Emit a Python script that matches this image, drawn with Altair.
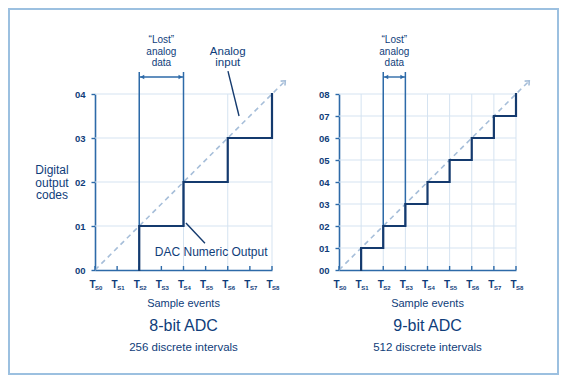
import altair as alt
import pandas as pd

# ---------------- data ----------------
samples = [0, 1, 2, 3, 4, 5, 6, 7, 8]
sample_subs = ["S0", "S1", "S2", "S3", "S4", "S5", "S6", "S7", "S8"]
codes_8bit = [0, 0, 1, 1, 2, 2, 3, 3, 4]
codes_9bit = [0, 1, 2, 3, 4, 5, 6, 7, 8]
y_ticks_8bit = [0, 1, 2, 3, 4]
y_ticks_9bit = [0, 1, 2, 3, 4, 5, 6, 7, 8]
grid_x_8bit = [2, 4, 6, 8]
grid_x_9bit = [1, 2, 3, 4, 5, 6, 7, 8]
lost_8bit = [2, 4]
lost_9bit = [2, 3]
titles = ["8-bit ADC", "9-bit ADC"]
subtitles = ["256 discrete intervals", "512 discrete intervals"]
lost_lines = ["\u201cLost\u201d", "analog", "data"]
ylabel_lines = ["Digital", "output", "codes"]
analog_lines = ["Analog", "input"]
dac_label = "DAC Numeric Output"
xtitle = "Sample events"

# ---------------- style ----------------
W, H = 177, 176
FONT = "Liberation Sans"
TXT = "#0f3d7a"
AXIS = "#2d6aa8"
STEP = "#143a6e"
GRID = "#d5e3f1"
DASH = "#a6bed9"
BORDER = "#9cc0e0"


def step_vertices(codes):
    pts = []
    for i in range(1, len(codes)):
        if codes[i] != codes[i - 1]:
            pts.append((samples[i], codes[i - 1]))
            pts.append((samples[i], codes[i]))
    return pd.DataFrame({"x": [p[0] for p in pts], "y": [p[1] for p in pts],
                         "o": list(range(len(pts)))})


def panel(codes, ymax, yticks, grid_x, lost, title, subtitle, left=False):
    ppu_y = H / ymax
    ppu_x = W / 8
    xs = alt.Scale(domain=[0, 8], nice=False, zero=False)
    ys = alt.Scale(domain=[0, ymax], nice=False, zero=False)
    xaxis = alt.Axis(values=samples, labels=False, ticks=False, domainColor=AXIS,
                     domainWidth=1.6, grid=False, title=None)
    yaxis = alt.Axis(values=yticks, format="02d", domainColor=AXIS, domainWidth=1.6,
                     tickColor=AXIS, tickWidth=1.4, tickSize=4, labelColor=TXT,
                     labelFont=FONT, labelFontSize=9.5, labelFontWeight="bold",
                     labelPadding=6, grid=False, title=None)

    def X(f="x"):
        return alt.X(f"{f}:Q", scale=xs, axis=xaxis)

    def Y(f="y"):
        return alt.Y(f"{f}:Q", scale=ys, axis=yaxis)

    # pixel (panel coords) -> data
    def py(p):
        return (H - p) / ppu_y

    def px(p):
        return p / ppu_x

    layers = []

    if left:
        border = alt.Chart(pd.DataFrame({"a": [0]})).mark_rect(
            fillOpacity=0, stroke=BORDER, strokeWidth=2
        ).encode(x=alt.value(-86), x2=alt.value(463), y=alt.value(-85), y2=alt.value(280))
        layers.append(border)

    gx = alt.Chart(pd.DataFrame({"x": grid_x})).mark_rule(color=GRID, strokeWidth=1).encode(x=X())
    gy = alt.Chart(pd.DataFrame({"y": yticks[1:]})).mark_rule(color=GRID, strokeWidth=1).encode(y=Y())
    layers += [gx, gy]

    # dashed analog input line with arrow
    tip = 8.55
    diag = pd.DataFrame({"x": [0, tip], "y": [0, tip * ymax / 8]})
    layers.append(alt.Chart(diag).mark_line(color=DASH, strokeWidth=1.6, strokeDash=[5, 4]).encode(
        x=X(), y=Y()))
    layers.append(alt.Chart(diag.iloc[[1]]).mark_point(
        shape="M-0.8,0.5L0,-0.4L0.8,0.5", filled=False, color=DASH, strokeWidth=1.6,
        size=60, angle=45, opacity=1).encode(x=X(), y=Y()))

    # lost-data bracket
    top_y = py(-22)
    arrow_y = py(-17)
    bl = pd.DataFrame({"x": lost, "y": [top_y, top_y],
                       "y2": [codes[lost[0] - 1], codes[lost[1] - 1]]})
    layers.append(alt.Chart(bl).mark_rule(color=AXIS, strokeWidth=1.5).encode(
        x=X(), y=Y(), y2="y2:Q"))
    ba = pd.DataFrame({"x": [lost[0]], "x2": [lost[1]], "y": [arrow_y]})
    layers.append(alt.Chart(ba).mark_rule(color=AXIS, strokeWidth=1.4).encode(
        x=X(), x2="x2:Q", y=Y()))
    heads = pd.DataFrame({"x": lost, "y": [arrow_y, arrow_y], "s": ["triangle-left", "triangle-right"]})
    for s, off in (("triangle-left", 3), ("triangle-right", -3)):
        layers.append(alt.Chart(heads[heads.s == s]).mark_point(
            shape=s, filled=True, color=AXIS, size=22, opacity=1, xOffset=off).encode(x=X(), y=Y()))

    # x ticks (inward)
    layers.append(alt.Chart(pd.DataFrame({"x": samples})).mark_rule(
        color=AXIS, strokeWidth=1.4).encode(x=X(), y=alt.value(H), y2=alt.value(H - 4)))

    # step output
    layers.append(alt.Chart(step_vertices(codes)).mark_line(
        color=STEP, strokeWidth=2.2, strokeJoin="miter", strokeCap="square").encode(
        x=X(), y=Y(), order="o:Q"))

    # x labels T + subscript
    lab = pd.DataFrame({"x": samples, "s": sample_subs})
    layers.append(alt.Chart(lab).mark_text(
        text="T", font=FONT, fontSize=10, color=TXT, align="right", baseline="middle", dx=0.5,
        fontWeight="bold").encode(x=X(), y=alt.value(H + 15)))
    layers.append(alt.Chart(lab).mark_text(
        font=FONT, fontSize=6, color=TXT, align="left", baseline="middle", dx=0,
        fontWeight="bold").encode(x=X(), y=alt.value(H + 18), text="s:N"))

    # lost label
    ll = pd.DataFrame({"x": [(lost[0] + lost[1]) / 2] * 3, "t": lost_lines,
                       "y": [py(-54), py(-42), py(-31)]})
    layers.append(alt.Chart(ll).mark_text(font=FONT, fontSize=10, color=TXT, baseline="middle").encode(
        x=X(), y=Y(), text="t:N"))

    # bottom labels
    bt = pd.DataFrame({"t": [xtitle, title, subtitle], "p": [210, 232, 254],
                       "fs": [11, 16, 11.5]})
    for i in range(3):
        layers.append(alt.Chart(bt.iloc[[i]]).mark_text(
            font=FONT, fontSize=float(bt.fs[i]), color=TXT, baseline="middle").encode(
            x=alt.value(W / 2), y=alt.value(int(bt.p[i])), text="t:N"))

    if left:
        yl = pd.DataFrame({"t": ylabel_lines, "x": [px(-43)] * 3,
                           "y": [py(76), py(88.5), py(101)]})
        layers.append(alt.Chart(yl).mark_text(font=FONT, fontSize=12, color=TXT, baseline="middle").encode(
            x=X(), y=Y(), text="t:N"))
        al = pd.DataFrame({"x": [6.0, 6.0], "t": analog_lines, "y": [py(-42), py(-31)]})
        layers.append(alt.Chart(al).mark_text(font=FONT, fontSize=11.5, color=TXT, baseline="middle").encode(
            x=X(), y=Y(), text="t:N"))
        lead = pd.DataFrame({"x": [6.01, 4.11], "y": [4.52, 1.07], "x2": [6.51, 4.97], "y2": [3.5, 0.61]})
        layers.append(alt.Chart(lead).mark_rule(color=STEP, strokeWidth=1.4).encode(
            x=X(), y=Y(), x2="x2:Q", y2="y2:Q"))
        dl = pd.DataFrame({"x": [5.25], "t": [dac_label], "y": [py(158)]})
        layers.append(alt.Chart(dl).mark_text(font=FONT, fontSize=12, color=TXT, baseline="middle").encode(
            x=X(), y=Y(), text="t:N"))

    return alt.layer(*layers).properties(width=W, height=H)


p1 = panel(codes_8bit, 4, y_ticks_8bit, grid_x_8bit, lost_8bit, titles[0], subtitles[0], left=True)
p2 = panel(codes_9bit, 8, y_ticks_9bit, grid_x_9bit, lost_9bit, titles[1], subtitles[1])

chart = alt.hconcat(p1, p2, spacing=67, bounds="flush").resolve_scale(x="independent", y="independent").properties(
    padding=0, background="white"
).configure_view(stroke=None)

chart.save("out.html", embed_options={"renderer": "svg", "actions": False})
